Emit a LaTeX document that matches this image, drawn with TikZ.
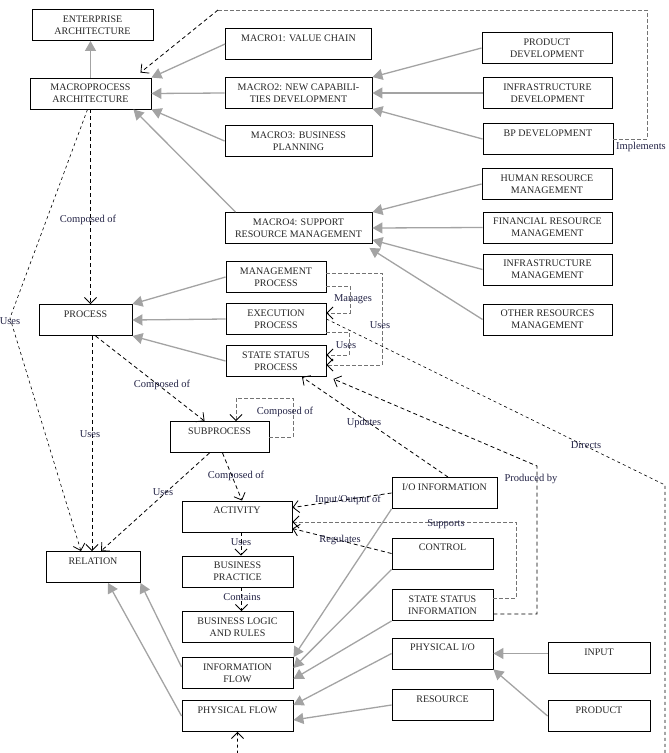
\documentclass[tikz,border=0pt]{standalone}
\usepackage{fontspec}
\setmainfont{Liberation Serif}
\usetikzlibrary{arrows.meta}

\definecolor{isagray}{RGB}{163,163,163}
\definecolor{loopgray}{RGB}{115,115,115}
\definecolor{lblcol}{RGB}{35,35,70}

\tikzset{
  box/.style={draw, line width=0.9pt, minimum height=31pt, inner sep=1pt, align=center,
    font=\fontsize{10}{12}\selectfont, text=black!85},
  isa/.style={draw=isagray, line width=1.3pt, -{Triangle[length=10pt,width=11pt,fill=isagray]}},
  dep/.style={draw=black, line width=0.8pt, dash pattern=on 4pt off 3pt,
    -{Straight Barb[length=6pt,width=12pt,line width=0.8pt]}},
  depthin/.style={dep, line width=0.6pt, dash pattern=on 3pt off 3pt},
  deploop/.style={draw=loopgray, line width=0.7pt, dash pattern=on 3.5pt off 2.5pt,
    -{Straight Barb[length=6pt,width=12pt,line width=0.8pt,color=black]}},
  lbl/.style={font=\fontsize{10.5}{12}\selectfont, text=lblcol, inner sep=0.5pt}
}

\begin{document}
\begin{tikzpicture}[x=1pt,y=-1pt]
\clip (0,0) rectangle (669,753);

%Boxes, top part
\node[box, minimum width=121pt] (ent) at (92.5,25) {ENTERPRISE\\ARCHITECTURE};
\node[box, minimum width=121pt] (march) at (90.5,93.5) {MACROPROCESS\\ARCHITECTURE};
\node[box, minimum width=146pt] (mvc) at (298.5,44) {MACRO1: VALUE CHAIN\\\mbox{}};
\node[box, minimum width=147pt] (mnc) at (298.5,93) {MACRO2: NEW CAPABILI-\\TIES DEVELOPMENT};
\node[box, minimum width=147pt] (mbp) at (298.5,141) {MACRO3: BUSINESS\\PLANNING};
\node[box, minimum width=147pt] (msr) at (298.5,228) {MACRO4: SUPPORT\\RESOURCE MANAGEMENT};
\node[box, minimum width=130pt] (pdev) at (547,48) {PRODUCT\\DEVELOPMENT};
\node[box, minimum width=129pt] (idev) at (547.5,93) {INFRASTRUCTURE\\DEVELOPMENT};
\node[box, minimum width=130pt] (bpdev) at (548,139) {BP DEVELOPMENT\\\mbox{}};
\node[box, minimum width=130pt] (hrm) at (547,184) {HUMAN RESOURCE\\MANAGEMENT};
\node[box, minimum width=129pt] (frm) at (547.5,227.5) {FINANCIAL RESOURCE\\MANAGEMENT};
\node[box, minimum width=129pt] (infm) at (547.5,269.5) {INFRASTRUCTURE\\MANAGEMENT};
\node[box, minimum width=129pt] (orm) at (547.5,319.5) {OTHER RESOURCES\\MANAGEMENT};

%Boxes, process level
\node[box, minimum width=100pt] (mgp) at (276,277) {MANAGEMENT\\PROCESS};
\node[box, minimum width=100pt] (exp) at (276,319) {EXECUTION\\PROCESS};
\node[box, minimum width=100pt] (ssp) at (276,361) {STATE STATUS\\PROCESS};
\node[box, minimum width=93pt] (proc) at (85.5,320) {PROCESS\\\mbox{}};
\node[box, minimum width=99pt] (subp) at (219.5,437) {SUBPROCESS\\\mbox{}};
\node[box, minimum width=94pt] (rel) at (93,567) {RELATION\\\mbox{}};

%Boxes, activity level
\node[box, minimum width=110pt] (act) at (237,516.5) {ACTIVITY\\\mbox{}};
\node[box, minimum width=111pt] (bprac) at (237.5,571.5) {BUSINESS\\PRACTICE};
\node[box, minimum width=111pt] (blr) at (237.5,627) {BUSINESS LOGIC\\AND RULES};
\node[box, minimum width=111pt] (iflow) at (237.5,673) {INFORMATION\\FLOW};
\node[box, minimum width=111pt] (pflow) at (237.5,716) {PHYSICAL FLOW\\\mbox{}};
\node[box, minimum width=105pt] (ioinfo) at (444.5,493) {I/O INFORMATION\\\mbox{}};
\node[box, minimum width=101pt] (ctrl) at (442.5,553.5) {CONTROL\\\mbox{}};
\node[box, minimum width=101pt] (ssinfo) at (442.5,605) {STATE STATUS\\INFORMATION};
\node[box, minimum width=101pt] (pio) at (442.5,653.5) {PHYSICAL I/O\\\mbox{}};
\node[box, minimum width=101pt] (res) at (442.5,705) {RESOURCE\\\mbox{}};
\node[box, minimum width=102pt] (inp) at (599,658) {INPUT\\\mbox{}};
\node[box, minimum width=102pt] (prod) at (599,716) {PRODUCT\\\mbox{}};

%Gray arrows
\draw[isa] (march.north) -- (march.north |- ent.south);
\draw[isa] (mvc.west) -- (march.north east);
\draw[isa] (mnc.west) -- (march.east);
\draw[isa] (mbp.west) -- (march.south east);
\draw[isa] ([xshift=11pt]msr.north west) -- ([xshift=-18pt]march.south east);
\draw[isa] (pdev.west) -- (mnc.north east);
\draw[isa] (idev.west) -- (mnc.east);
\draw[isa] (bpdev.west) -- (mnc.south east);
\draw[isa] (hrm.west) -- (msr.north east);
\draw[isa] (frm.west) -- (msr.east);
\draw[isa] (infm.west) -- ([yshift=4pt]msr.south east);
\draw[isa] (orm.west) -- ([xshift=-3pt,yshift=-4pt]msr.south east);
\draw[isa] (mgp.west) -- (proc.north east);
\draw[isa] (exp.west) -- (proc.east);
\draw[isa] (ssp.west) -- (proc.south east);
\draw[isa] ([yshift=-10pt]iflow.north west) -- (rel.south east);
\draw[isa] (pflow.west) -- ([xshift=15pt]rel.south);
\draw[isa] (ioinfo.south west) -- (iflow.north east);
\draw[isa] (ctrl.south west) -- ([yshift=5pt]iflow.east);
\draw[isa] (ssinfo.south west) -- ([yshift=-6pt]iflow.east);
\draw[isa] (pio.west) -- ([yshift=11pt]pflow.east);
\draw[isa] (res.west) -- ([yshift=-4pt]pflow.east);
\draw[isa] (inp.west |- pio.east) -- (pio.east);
\draw[isa] (prod.west) -- (pio.south east);

%Bend points
\coordinate (impA) at (647,10);
\coordinate (impB) at (218,10);
\coordinate (usesL) at (10,318);
\coordinate (sloopA) at (293,398);
\coordinate (manC) at (350,313);
\coordinate (useC1) at (349,355);
\coordinate (useC2) at (382,365);
\coordinate (supC) at (516,522);
\coordinate (prdC) at (537,466);
\coordinate (dirA) at (665,485);
\coordinate (dirB) at (665,790);
\coordinate (dirC) at (237.5,790);

%Dashed arrows
\draw[deploop, -] (bpdev.east) -| (impA) -- (impB);
\draw[dep] (impB) -- ([xshift=-11pt,yshift=5pt]march.north east);
\draw[dep] (march.south) -- (march.south |- proc.north);
\draw[depthin] ([xshift=-3pt]march.south) -- (usesL) -- ([xshift=-12pt]rel.north);
\draw[dep] ([xshift=6.5pt]proc.south) -- ([xshift=6.5pt]proc.south |- rel.north);
\draw[dep] ([xshift=10pt]proc.south) -- ([xshift=35pt]subp.north west);
\draw[deploop] (subp.east) -| (sloopA) -| ([xshift=16.5pt]subp.north);
\draw[dep] ([xshift=-10pt]subp.south) -- ([xshift=8pt]rel.north);
\draw[dep] ([xshift=3pt]subp.south) -- ([xshift=5pt]act.north);
\draw[dep] ([xshift=4pt]act.south) -- ([xshift=4pt]act.south |- bprac.north);
\draw[dep] ([xshift=4pt]bprac.south) -- ([xshift=4pt]bprac.south |- blr.north);
\draw[deploop] ([yshift=-9pt]mgp.east) -| (manC) -- ([yshift=6pt]exp.east);
\draw[deploop] ([yshift=-13pt]exp.east) -| (useC1) -- ([yshift=6pt]ssp.east);
\draw[deploop] ([yshift=4pt]mgp.east) -| (useC2) -- ([yshift=-4pt]ssp.east);
\draw[depthin] (exp.east) -- (dirA) -- (dirB) -- (dirC) -- (pflow.south);
\draw[dep] ([xshift=3.5pt]ioinfo.north) -- ([xshift=26pt]ssp.south);
\draw[dep] ([yshift=-9pt]ssinfo.east) -| (prdC) -- ([xshift=7pt,yshift=-2pt]ssp.south east);
\draw[dep] (ioinfo.west) -- ([yshift=9pt]act.east);
\draw[deploop] ([yshift=7pt]ssinfo.east) -| (supC) -- ([yshift=-5.5pt]act.east);
\draw[dep] (ctrl.west) -- ([yshift=-12pt]act.east);

% Text Nodes
\node[lbl] (tImpl) at (641,147) {Implements};
\node[lbl] (tComp1) at (88,220) {Composed of};
\node[lbl] (tUses1) at (10,321) {Uses};
\node[lbl] (tUses2) at (90,434) {Uses};
\node[lbl] (tComp2) at (162,385) {Composed of};
\node[lbl] (tComp3) at (285,412) {Composed of};
\node[lbl] (tUses3) at (163,492) {Uses};
\node[lbl] (tComp4) at (236,476) {Composed of};
\node[lbl] (tUses4) at (241,542) {Uses};
\node[lbl] (tCont) at (242,597) {Contains};
\node[lbl] (tInOut) at (348,500) {Input/Output of};
\node[lbl] (tSupp) at (446,524) {Supports};
\node[lbl] (tRegu) at (340,540) {Regulates};
\node[lbl] (tProd) at (531,479) {Produced by};
\node[lbl] (tUpd) at (364,423) {Updates};
\node[lbl] (tDir) at (586,445) {Directs};
\node[lbl] (tMan) at (353,299) {Manages};
\node[lbl] (tUses5) at (380,325) {Uses};
\node[lbl] (tUses6) at (346,345) {Uses};

\end{tikzpicture}
\end{document}
